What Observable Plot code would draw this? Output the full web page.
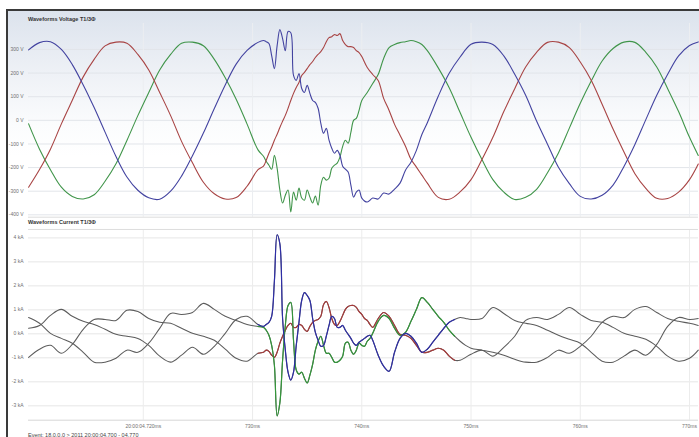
<!DOCTYPE html>
<html>
<head>
<meta charset="utf-8">
<script src="https://cdn.jsdelivr.net/npm/d3@7"></script>
<script src="https://cdn.jsdelivr.net/npm/@observablehq/plot@0.6"></script>
<style>
  html, body { margin: 0; padding: 0; background: #fff; }
  #chart { position: relative; width: 699px; height: 437px; overflow: hidden; font-family: "Liberation Sans", Arial, sans-serif; }
  #frame { position: absolute; left: 6px; top: 9px; width: 720px; height: 440px; border-left: 2px solid #3a3a3a; border-top: 2px solid #3a3a3a; }
  .panel { position: absolute; left: 8px; }
  .ptitle { position: absolute; left: 28px; font-size: 5.5px; font-weight: bold; color: #333; white-space: nowrap; line-height: 6px; }
  #caption { position: absolute; left: 28px; top: 432px; font-size: 5.5px; color: #444; white-space: nowrap; }
</style>
</head>
<body>
<div id="chart">
  <div id="frame"></div>
  <div id="vpanel" class="panel" style="top:11px"></div>
  <div id="cpanel" class="panel" style="top:218px"></div>
  <div class="ptitle" style="top:16px">Waveforms Voltage T1/3Φ</div>
  <div class="ptitle" style="top:219px">Waveforms Current T1/3Φ</div>
  <div id="caption">Event: 18.0.0.0 &gt; 2011  20:00:04.700 - 04.770</div>
</div>
<script>
// ---------- axes / ticks ----------
const xTicks = [720, 730, 740, 750, 760, 770];
const xTickLabels = ["20:00:04.720ms", "730ms", "740ms", "750ms", "760ms", "770ms"];
const voltTicks = [-400, -300, -200, -100, 0, 100, 200, 300];
const currTicks = [-3, -2, -1, 0, 1, 2, 3, 4];

// ---------- voltage (V) ----------
const voltTimes = [709.5,710.5,711.5,712.5,713.5,714.5,715.5,716.5,717.5,718.5,719.5,720.5,721.5,722.5,723.5,724.5,725.5,726.5,727.5,728.5,729.5,730.5,
731,731.25,731.5,731.75,732,732.25,732.5,732.75,733,733.25,733.5,733.75,734,734.25,734.5,734.75,735,735.25,735.5,735.75,736,736.25,736.5,736.75,737,737.25,737.5,737.75,738,738.25,738.5,738.75,739,739.25,739.5,739.75,740,
740.5,741,741.5,742,742.5,743,743.5,744,744.5,745,745.5,746,
747,748,749,750,751,752,753,754,755,756,757,758,759,760,761,762,763,764,765,766,767,768,769,770,770.8];

const voltBlue = [298,329,333,300,236,150,54,-50,-153,-240,-296,-328,-334,-300,-236,-150,-54,50,150,238,296,330,
338,333,325,274,219,316,384,346,295,376,371,190,169,198,135,118,148,114,84,76,51,-13,-55,-34,-84,-118,-139,-127,-148,-194,-207,-219,-274,-325,-304,-295,-329,
-346,-329,-333,-308,-312,-291,-266,-211,-177,-127,-60,-10,
102,199,268,322,331,321,273,195,106,-3,-101,-199,-268,-322,-333,-317,-274,-195,-102,3,106,195,273,317,332];

const voltRed = [-283,-208,-122,-15,85,184,258,315,331,326,279,213,118,20,-89,-180,-262,-311,-333,-327,-279,-209,
-194,-169,-139,-114,-84,-59,-30,-4,21,51,84,114,139,160,190,203,219,236,249,266,279,291,308,333,350,354,363,359,367,338,321,312,312,308,295,287,270,
224,194,169,93,42,-17,-63,-110,-165,-198,-232,-266,
-326,-334,-303,-251,-166,-72,37,134,226,288,330,331,308,247,170,68,-37,-134,-226,-288,-330,-331,-304,-251,-185];

const voltGreen = [-15,-122,-209,-283,-322,-333,-315,-258,-184,-85,20,118,213,279,326,331,316,258,180,89,-16,-125,
-152,-173,-190,-207,-148,-203,-295,-350,-317,-295,-388,-304,-338,-287,-329,-338,-295,-325,-350,-321,-359,-274,-241,-253,-245,-203,-190,-181,-156,-110,-84,-97,-51,0,8,42,84,
118,156,194,262,308,321,329,333,338,333,321,295,
222,138,33,-72,-166,-251,-304,-335,-326,-292,-222,-138,-33,72,166,251,304,331,330,288,226,134,37,-72,-149];

// ---------- current (kA) ----------
const currTimes = [709.5,710.5,711.5,712.5,713.5,714.5,715.5,716.5,717.5,718.5,719.5,720.5,721.5,722.5,723.5,724.5,725.5,726.5,727.5,728.5,729.5,730.5,
731,731.25,731.5,731.75,732,732.25,732.5,732.75,733,733.25,733.5,733.75,734,734.25,734.5,734.75,735,735.25,735.5,735.75,736,736.25,736.5,736.75,737,737.25,737.5,737.75,738,738.25,738.5,738.75,739,739.25,739.5,739.75,740,740.25,740.5,740.75,741,
741.5,742,742.5,743,743.5,744,744.5,745,745.5,746,746.5,747,747.5,748,748.5,749,749.5,750,
751,752,753,754,755,756,757,758,759,760,761,762,763,764,765,766,767,768,769,770,770.8];

const currBlue = [0.23,0.35,0.77,1.02,0.73,0.52,0.39,0.19,-0.02,-0.10,-0.19,-0.48,-0.93,-1.18,-0.89,-0.56,-0.85,-0.52,0.02,0.60,0.73,0.39,
0.31,0.39,0.48,0.73,2.2,4.13,3.75,0.64,-0.68,-1.60,-1.93,-1.60,-0.48,0.48,1.39,1.72,1.60,1.39,0.64,0.06,-0.27,-0.52,-0.48,-0.10,0.35,0.73,0.64,0.27,0.27,0.35,0.15,-0.02,-0.19,-0.39,-0.48,-0.35,-0.27,-0.19,-0.10,-0.06,-0.27,
-0.89,-1.35,-1.56,-0.77,-0.19,0.02,-0.10,-0.39,-0.77,-0.64,-0.35,-0.06,0.23,0.48,0.60,0.68,0.64,0.60,
0.64,1.10,0.85,0.56,0.44,0.35,0.15,-0.06,-0.23,-0.39,-0.77,-1.14,-1.18,-0.93,-0.68,-0.89,-0.44,0.31,0.68,0.60,0.64];

const currRed = [-0.98,-0.64,-0.48,-0.81,-0.44,0.19,0.60,0.60,0.56,0.98,0.93,0.64,0.48,0.44,0.23,0.02,-0.10,-0.27,-0.64,-1.02,-1.14,-0.81,
-0.77,-0.68,-0.73,-0.89,-0.98,-0.77,-0.39,-0.10,0.15,0.35,0.44,0.27,0.27,0.39,0.35,0.19,0.10,0.31,0.48,0.56,0.60,0.73,1.22,1.35,1.10,0.64,0.39,0.35,0.52,0.77,1.02,1.14,1.18,1.18,1.10,0.93,0.81,0.64,0.56,0.39,0.27,
0.64,0.89,0.73,0.35,-0.02,-0.06,-0.19,-0.48,-0.77,-0.77,-0.68,-0.60,-0.68,-0.93,-1.10,-1.10,-0.98,-0.85,
-0.68,-0.93,-0.56,-0.10,0.56,0.68,0.60,0.81,1.10,0.81,0.56,0.48,0.27,0.02,-0.10,-0.23,-0.52,-0.93,-1.14,-1.02,-0.68];

const currGreen = [0.68,0.44,0.02,-0.19,-0.39,-0.77,-1.18,-1.18,-1.02,-0.68,-0.77,-0.39,0.23,0.85,0.81,0.89,1.27,1.02,0.73,0.56,0.39,0.31,
0.27,0.15,-0.06,-0.48,-1.31,-3.42,-2.88,-1.10,0.35,1.18,1.31,-0.27,-1.51,-1.68,-1.60,-1.85,-2.05,-1.72,-1.27,-0.68,-0.31,-0.10,-0.48,-0.81,-0.81,-0.98,-1.18,-1.18,-1.10,-0.93,-0.39,-0.35,-0.68,-0.85,-0.68,-0.39,-0.48,-0.52,-0.31,-0.19,0.02,
0.52,0.77,0.64,0.23,-0.06,0.06,0.52,1.02,1.51,1.31,1.02,0.73,0.48,0.15,-0.10,-0.31,-0.48,-0.60,
-0.68,-0.77,-0.89,-1.06,-1.18,-1.18,-0.98,-0.68,-0.81,-0.52,-0.10,0.48,0.73,0.68,1.02,1.14,0.89,0.64,0.52,0.44,0.35];

// ---------- helpers ----------
const zip = (times, vals) => times.slice(0, Math.min(times.length, vals.length)).map((t, i) => ({t, v: vals[i]}));
const xDomain = [709.49, 770.82];
const W = 692;
const colors = {blue: "#4343a0", red: "#a84444", green: "#40954a"};
const currColors = {blue: "#2e2ea6", red: "#a83a3a", green: "#33963a"};
const grayLine = "#5c5c5c";
const baseStyle = {fontSize: "5px", fontFamily: "'Liberation Sans', Arial, sans-serif", color: "#707070", overflow: "visible"};

const vData = {blue: zip(voltTimes, voltBlue), red: zip(voltTimes, voltRed), green: zip(voltTimes, voltGreen)};
const cData = {blue: zip(currTimes, currBlue), red: zip(currTimes, currRed), green: zip(currTimes, currGreen)};
const inEvent = d => d.t >= 730.5 && d.t <= 748.5;

const vPlot = Plot.plot({
  width: W, height: 207, marginLeft: 20, marginRight: 1, marginTop: 12, marginBottom: 1,
  style: {...baseStyle, background: "linear-gradient(to bottom, #dce3ed 0%, #eef1f6 30%, #fbfcfd 55%, #ffffff 70%)"},
  x: {domain: xDomain, axis: null},
  y: {domain: [-410, 410], ticks: voltTicks, tickFormat: d => `${d} V`, tickSize: 0, tickPadding: 5, label: null},
  marks: [
    Plot.ruleY(voltTicks, {stroke: "#e2e5ea", strokeWidth: 1}),
    Plot.ruleX(xTicks, {stroke: "#eceef1", strokeWidth: 1}),
    Plot.ruleY([-410], {stroke: "#dcdcdc"}),
    Plot.lineY(vData.green, {x: "t", y: "v", stroke: colors.green, strokeWidth: 1.1, curve: "catmull-rom"}),
    Plot.lineY(vData.red, {x: "t", y: "v", stroke: colors.red, strokeWidth: 1.1, curve: "catmull-rom"}),
    Plot.lineY(vData.blue, {x: "t", y: "v", stroke: colors.blue, strokeWidth: 1.1, curve: "catmull-rom"})
  ]
});
document.getElementById("vpanel").appendChild(vPlot);

const cPlot = Plot.plot({
  width: W, height: 219, marginLeft: 20, marginRight: 1, marginTop: 11, marginBottom: 17,
  style: {...baseStyle, background: "transparent"},
  x: {domain: xDomain, ticks: xTicks, tickFormat: d => xTickLabels[xTicks.indexOf(d)], tickSize: 0, tickPadding: 4, label: null},
  y: {domain: [-3.6, 4.35], ticks: currTicks, tickFormat: d => `${d} kA`, tickSize: 0, tickPadding: 5, label: null},
  marks: [
    Plot.ruleY(currTicks, {stroke: "#e6e6e6", strokeWidth: 1}),
    Plot.ruleX(xTicks, {stroke: "#ececec", strokeWidth: 1}),
    Plot.ruleY([4.35], {stroke: "#dedede"}),
    Plot.ruleY([-3.6], {stroke: "#d6d6d6"}),
    Plot.lineY(cData.red, {x: "t", y: "v", stroke: grayLine, strokeWidth: 1.05, curve: "catmull-rom"}),
    Plot.lineY(cData.green, {x: "t", y: "v", stroke: grayLine, strokeWidth: 1.05, curve: "catmull-rom"}),
    Plot.lineY(cData.blue, {x: "t", y: "v", stroke: grayLine, strokeWidth: 1.05, curve: "catmull-rom"}),
    Plot.lineY(cData.red.filter(inEvent), {x: "t", y: "v", stroke: currColors.red, strokeWidth: 1.15, curve: "catmull-rom"}),
    Plot.lineY(cData.green.filter(inEvent), {x: "t", y: "v", stroke: currColors.green, strokeWidth: 1.2, curve: "catmull-rom"}),
    Plot.lineY(cData.blue.filter(inEvent), {x: "t", y: "v", stroke: currColors.blue, strokeWidth: 1.2, curve: "catmull-rom"})
  ]
});
document.getElementById("cpanel").appendChild(cPlot);
</script>
</body>
</html>
